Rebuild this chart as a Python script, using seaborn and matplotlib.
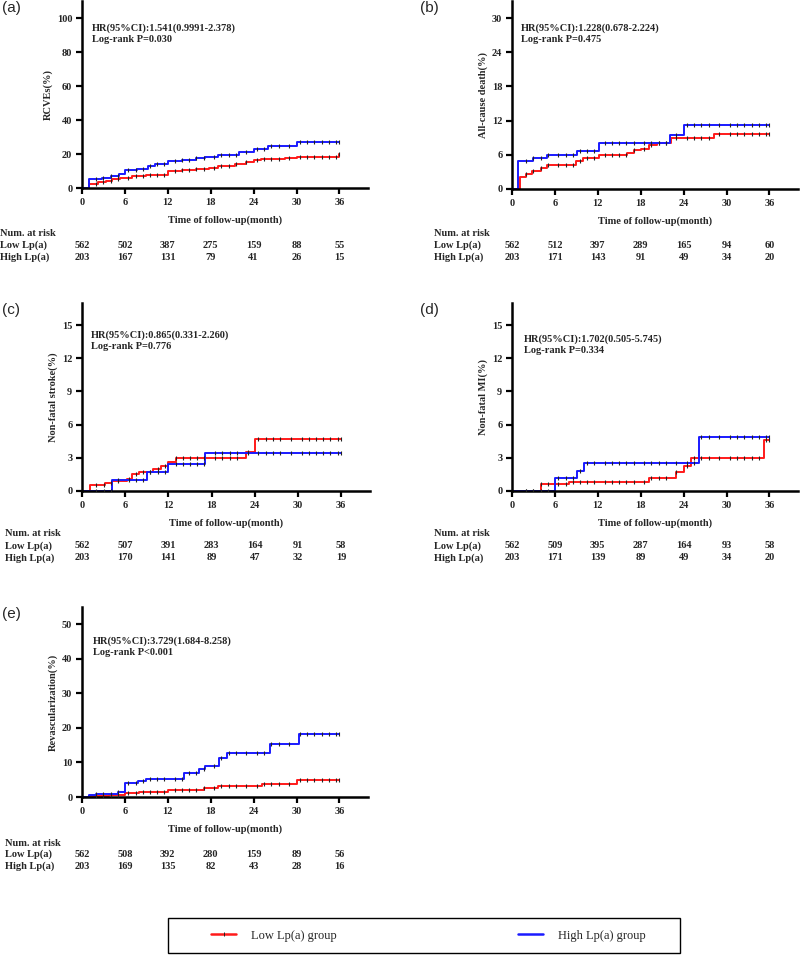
import numpy as np
import pandas as pd
import matplotlib
matplotlib.use('Agg')
import matplotlib.pyplot as plt
import matplotlib.transforms as mtransforms
from matplotlib.lines import Line2D
import seaborn as sns

# ---- data ----
months = [0, 6, 12, 18, 24, 30, 36]
censor_times = [2, 3, 4, 5, 6.5, 7.5, 8.5, 9.5, 10.5, 11.5, 13, 14, 15, 16, 17, 18.5, 19.5,
                20.5, 21.5, 23, 24.5, 25.5, 26.5, 27.5, 29, 30.5, 31.5, 32.5, 33.5, 34.5, 35.5, 36]

# (a) RCVEs
a_low_t = [0, 1.0, 2.2, 3.3, 4.2, 5.3, 7.0, 9.0, 12.0, 14.0, 16.0, 17.8, 19.0, 21.4, 23.0, 24.0, 25.0, 28.4, 30.0, 35.9, 36]
a_low_y = [0, 2.5, 3.4, 4.2, 5.0, 5.9, 6.8, 7.9, 10.2, 10.8, 11.3, 12.0, 13.2, 14.0, 15.2, 16.2, 17.0, 17.6, 18.4, 20.0, 20.0]
a_high_t = [0, 1.0, 2.8, 4.0, 5.2, 6.0, 7.7, 9.2, 10.2, 12.0, 14.0, 16.0, 17.2, 19.0, 22.0, 24.0, 26.0, 30.0, 36]
a_high_y = [0, 5.4, 6.0, 7.0, 8.0, 10.6, 11.2, 13.0, 14.0, 15.6, 16.5, 17.5, 18.2, 19.4, 21.0, 22.7, 24.7, 27.3, 27.3]
a_risk_low = [562, 502, 387, 275, 159, 88, 55]
a_risk_high = [203, 167, 131, 79, 41, 26, 15]

# (b) All-cause death
b_low_t = [0, 1.1, 1.9, 2.8, 4.0, 4.9, 8.9, 9.9, 12.1, 16.1, 17.0, 18.0, 19.2, 20.3, 22.2, 28.3, 36]
b_low_y = [0, 2.1, 2.6, 3.1, 3.6, 4.3, 5.0, 5.4, 6.0, 6.4, 6.8, 7.1, 7.7, 8.1, 8.9, 9.7, 9.7]
b_high_t = [0, 0.9, 3.0, 4.9, 9.1, 12.1, 22.1, 24.0, 36]
b_high_y = [0, 5.0, 5.5, 6.0, 6.6, 8.0, 9.4, 11.3, 11.3]
b_risk_low = [562, 512, 397, 289, 165, 94, 60]
b_risk_high = [203, 171, 143, 91, 49, 34, 20]

# (c) Non-fatal stroke
c_low_t = [0, 1.1, 3.2, 4.2, 6.2, 7.0, 7.9, 9.9, 11.0, 12.0, 13.0, 22.8, 24.0, 36]
c_low_y = [0, 0.55, 0.75, 0.9, 1.1, 1.5, 1.7, 2.0, 2.25, 2.65, 2.95, 3.5, 4.7, 4.7]
c_high_t = [0, 4.2, 9.0, 12.0, 17.1, 36]
c_high_y = [0, 1.0, 1.7, 2.4, 3.45, 3.45]
c_risk_low = [562, 507, 391, 283, 164, 91, 58]
c_risk_high = [203, 170, 141, 89, 47, 32, 19]

# (d) Non-fatal MI
d_low_t = [0, 4.0, 8.0, 19.2, 23.0, 24.1, 25.1, 35.2, 36]
d_low_y = [0, 0.6, 0.8, 1.15, 1.7, 2.3, 3.0, 4.6, 4.6]
d_high_t = [0, 6.0, 9.1, 10.0, 26.2, 36]
d_high_y = [0, 1.2, 1.8, 2.5, 4.9, 4.9]
d_risk_low = [562, 509, 395, 287, 164, 93, 58]
d_risk_high = [203, 171, 139, 89, 49, 34, 20]

# (e) Revascularization
e_low_t = [0, 1.0, 3.8, 6.0, 8.0, 12.0, 17.0, 19.0, 25.2, 30.0, 36]
e_low_y = [0, 0.2, 0.5, 1.1, 1.5, 2.1, 2.7, 3.1, 3.8, 4.8, 4.8]
e_high_t = [0, 1.0, 2.0, 5.0, 6.0, 7.8, 9.0, 14.2, 16.3, 17.2, 19.1, 20.3, 26.3, 30.3, 36]
e_high_y = [0, 0.5, 1.0, 1.5, 4.0, 4.6, 5.2, 7.0, 8.0, 9.0, 11.4, 12.7, 15.3, 18.3, 18.3]
e_risk_low = [562, 508, 392, 280, 159, 89, 56]
e_risk_high = [203, 169, 135, 82, 43, 28, 16]

panels = [
    dict(tag='(a)', ylabel='RCVEs(%)', ymax=110, yticks=[0, 20, 40, 60, 80, 100],
         hr='HR(95%CI):1.541(0.9991-2.378)\nLog-rank P=0.030',
         low=(a_low_t, a_low_y), high=(a_high_t, a_high_y), risk=(a_risk_low, a_risk_high),
         box=(82, 1, 368, 188), text_xy=(0.035, 0.88), rows=(45, 57, 69), lab_x=0),
    dict(tag='(b)', ylabel='All-cause death(%)', ymax=33, yticks=[0, 6, 12, 18, 24, 30],
         hr='HR(95%CI):1.228(0.678-2.224)\nLog-rank P=0.475',
         low=(b_low_t, b_low_y), high=(b_high_t, b_high_y), risk=(b_risk_low, b_risk_high),
         box=(512, 1, 798, 189), text_xy=(0.03, 0.88), rows=(44, 56, 68), lab_x=434),
    dict(tag='(c)', ylabel='Non-fatal stroke(%)', ymax=17, yticks=[0, 3, 6, 9, 12, 15],
         hr='HR(95%CI):0.865(0.331-2.260)\nLog-rank P=0.776',
         low=(c_low_t, c_low_y), high=(c_high_t, c_high_y), risk=(c_risk_low, c_risk_high),
         box=(82, 303, 370, 491), text_xy=(0.03, 0.855), rows=(43, 55, 67), lab_x=5),
    dict(tag='(d)', ylabel='Non-fatal MI(%)', ymax=17, yticks=[0, 3, 6, 9, 12, 15],
         hr='HR(95%CI):1.702(0.505-5.745)\nLog-rank P=0.334',
         low=(d_low_t, d_low_y), high=(d_high_t, d_high_y), risk=(d_risk_low, d_risk_high),
         box=(512, 303, 798, 491), text_xy=(0.042, 0.835), rows=(43, 55, 67), lab_x=434),
    dict(tag='(e)', ylabel='Revascularization(%)', ymax=55, yticks=[0, 10, 20, 30, 40, 50],
         hr='HR(95%CI):3.729(1.684-8.258)\nLog-rank P<0.001',
         low=(e_low_t, e_low_y), high=(e_high_t, e_high_y), risk=(e_risk_low, e_risk_high),
         box=(82, 607, 368, 797), text_xy=(0.038, 0.845), rows=(46, 57, 69), lab_x=5),
]

RED = '#ff1a1a'
BLUE = '#1a1aff'
W, H = 800, 955

sns.set_theme(style='ticks')
plt.rcParams['font.family'] = ['Liberation Serif', 'DejaVu Serif']
plt.rcParams['font.weight'] = 'bold'
plt.rcParams['axes.labelweight'] = 'bold'

fig = plt.figure(figsize=(W / 100, H / 100), dpi=100)


def step_lookup(ts, ys, t):
    idx = np.searchsorted(ts, t, side='right') - 1
    return np.asarray(ys)[idx]


for p in panels:
    x0, y0, x1, y1 = p['box']
    ax = fig.add_axes([x0 / W, 1 - y1 / H, (x1 - x0) / W, (y1 - y0) / H])

    frames = []
    for name, (ts, ys) in [('Low', p['low']), ('High', p['high'])]:
        frames.append(pd.DataFrame({'time': ts, 'pct': ys, 'group': name}))
    df = pd.concat(frames, ignore_index=True)
    sns.lineplot(data=df, x='time', y='pct', hue='group', palette={'Low': RED, 'High': BLUE},
                 drawstyle='steps-post', estimator=None, linewidth=1.4, legend=False, ax=ax)

    for ts, ys in [p['low'], p['high']]:
        cy = step_lookup(ts, ys, censor_times)
        sns.scatterplot(x=censor_times, y=cy, marker='|', color='#222222', s=9,
                        linewidth=0.8, ax=ax, legend=False, zorder=4)

    ax.set_xlim(0, 40)
    ax.set_ylim(0, p['ymax'])
    ax.set_xticks(months)
    ax.set_yticks(p['yticks'])
    ax.tick_params(labelsize=7.5, width=1.6, length=4, pad=3, color='black')
    for lab in ax.get_xticklabels() + ax.get_yticklabels():
        lab.set_fontweight('bold')
    sns.despine(ax=ax)
    for s in ['left', 'bottom']:
        ax.spines[s].set_linewidth(1.8)
        ax.spines[s].set_color('black')
    ax.set_xlabel('Time of follow-up(month)', fontsize=7.5, fontweight='bold', labelpad=6)
    ax.set_ylabel(p['ylabel'], fontsize=7.5, fontweight='bold', labelpad=3)

    ax.text(p['text_xy'][0], p['text_xy'][1], p['hr'], transform=ax.transAxes, ha='left', va='top',
            fontsize=7.5, fontweight='bold', linespacing=1.3)

    # number at risk table
    trans = mtransforms.blended_transform_factory(ax.transData, fig.transFigure)
    r0, r1, r2 = p['rows']
    for txt, yy in [('Num. at risk', y1 + r0), ('Low Lp(a)', y1 + r1), ('High Lp(a)', y1 + r2)]:
        fig.text(p['lab_x'] / W, 1 - yy / H, txt, ha='left', va='center', fontsize=7.5,
                 fontweight='bold')
    for m, nl, nh in zip(months, p['risk'][0], p['risk'][1]):
        ax.text(m, 1 - (y1 + r1) / H, str(nl), transform=trans, ha='center', va='center',
                fontsize=7.5, fontweight='bold', clip_on=False)
        ax.text(m, 1 - (y1 + r2) / H, str(nh), transform=trans, ha='center', va='center',
                fontsize=7.5, fontweight='bold', clip_on=False)

    tag_x = 2 if x0 < 400 else 420
    fig.text(tag_x / W, 1 - (y0 + 7) / H, p['tag'], ha='left', va='center', fontsize=11,
             fontweight='normal', family='Liberation Sans')

# legend
fig.add_artist(plt.Rectangle((168 / W, 1 - 953 / H), 512 / W, 35 / H, transform=fig.transFigure,
                             fill=False, lw=1.0, ec='black'))
handles = [Line2D([], [], color=RED, lw=1.8, marker='|', markersize=3, markeredgecolor='#222222',
                  markeredgewidth=0.7),
           Line2D([], [], color=BLUE, lw=1.8)]
fig.legend(handles, ['Low Lp(a) group', 'High Lp(a) group'], loc='center left',
           bbox_to_anchor=(205 / W, 1 - 935.5 / H), ncol=2, frameon=False, borderpad=0,
           handlelength=2.0, handletextpad=1.2, columnspacing=14.5,
           prop={'family': 'Liberation Serif', 'weight': 'normal', 'size': 9})

fig.savefig('out.png', dpi=100)
